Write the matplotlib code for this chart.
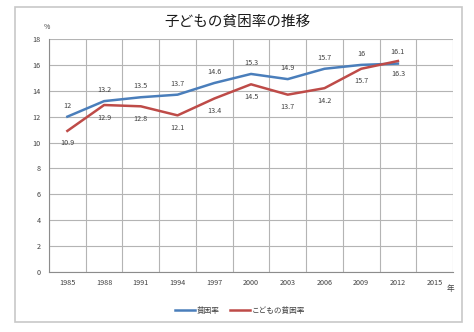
import matplotlib
matplotlib.use("Agg")
import matplotlib.pyplot as plt
from matplotlib.patches import Rectangle
import numpy as np

plt.rcParams['font.family'] = ['Noto Sans CJK JP', 'DejaVu Sans']

years = ["1985", "1988", "1991", "1994", "1997", "2000", "2003", "2006", "2009", "2012", "2015"]
poverty = [12, 13.2, 13.5, 13.7, 14.6, 15.3, 14.9, 15.7, 16, 16.1]
child_poverty = [10.9, 12.9, 12.8, 12.1, 13.4, 14.5, 13.7, 14.2, 15.7, 16.3]

BLUE = "#4A7EBB"
RED = "#BE4B48"

fig = plt.figure(figsize=(4.74, 3.32), dpi=100)
fig.patches.append(Rectangle((15 / 474, 1 - 322 / 332), 447 / 474, 315 / 332,
                             transform=fig.transFigure, fill=False,
                             edgecolor="#C8C8C8", linewidth=1.2))

ax = fig.add_axes([49 / 474, 1 - 272 / 332, 404 / 474, 233 / 332])

x = np.arange(len(years))
ax.plot(x[:len(poverty)], poverty, color=BLUE, lw=1.8, label="貧困率")
ax.plot(x[:len(child_poverty)], child_poverty, color=RED, lw=1.8, label="こどもの貧困率")

for i, v in enumerate(poverty):
    ax.annotate(f"{v:g}", (i, v), xytext=(0, 8), textcoords="offset points",
                ha="center", va="center", fontsize=5.2, color="#404040")
for i, v in enumerate(child_poverty):
    ax.annotate(f"{v:g}", (i, v), xytext=(0, -9), textcoords="offset points",
                ha="center", va="center", fontsize=5.2, color="#404040")

ax.set_xlim(-0.5, len(years) - 0.5)
ax.set_ylim(0, 18)
ax.set_yticks(range(0, 19, 2))
ax.set_xticks(x)
ax.set_xticklabels(years)
ax.set_xticks(np.arange(-0.5, len(years), 1), minor=True)
ax.grid(True, axis="y", which="major", color="#B4B4B4", lw=0.8)
ax.grid(True, axis="x", which="minor", color="#B4B4B4", lw=0.8)
ax.tick_params(axis="both", which="both", length=0, labelsize=5.2, colors="#404040")
ax.tick_params(axis="x", pad=5)
ax.tick_params(axis="y", pad=6)
for s in ["top", "right"]:
    ax.spines[s].set_visible(False)
ax.spines["left"].set_color("#8C8C8C")
ax.spines["bottom"].set_color("#8C8C8C")
ax.set_axisbelow(True)

fig.text(237 / 474, 1 - 22 / 332, "子どもの貧困率の推移", ha="center", va="center",
         fontsize=10.5, color="#1A1A1A")
fig.text(47 / 474, 1 - 27 / 332, "%", ha="center", va="center", fontsize=5, color="#404040")
fig.text(450 / 474, 1 - 289 / 332, "年", ha="center", va="center", fontsize=5.5, color="#404040")

fig.legend(loc="center", bbox_to_anchor=(240 / 474, 1 - 311 / 332), ncol=2,
           frameon=False, fontsize=5.5, handlelength=2.6, columnspacing=1.5,
           handletextpad=0.2, labelcolor="#404040")

fig.savefig("out.png", dpi=100)
